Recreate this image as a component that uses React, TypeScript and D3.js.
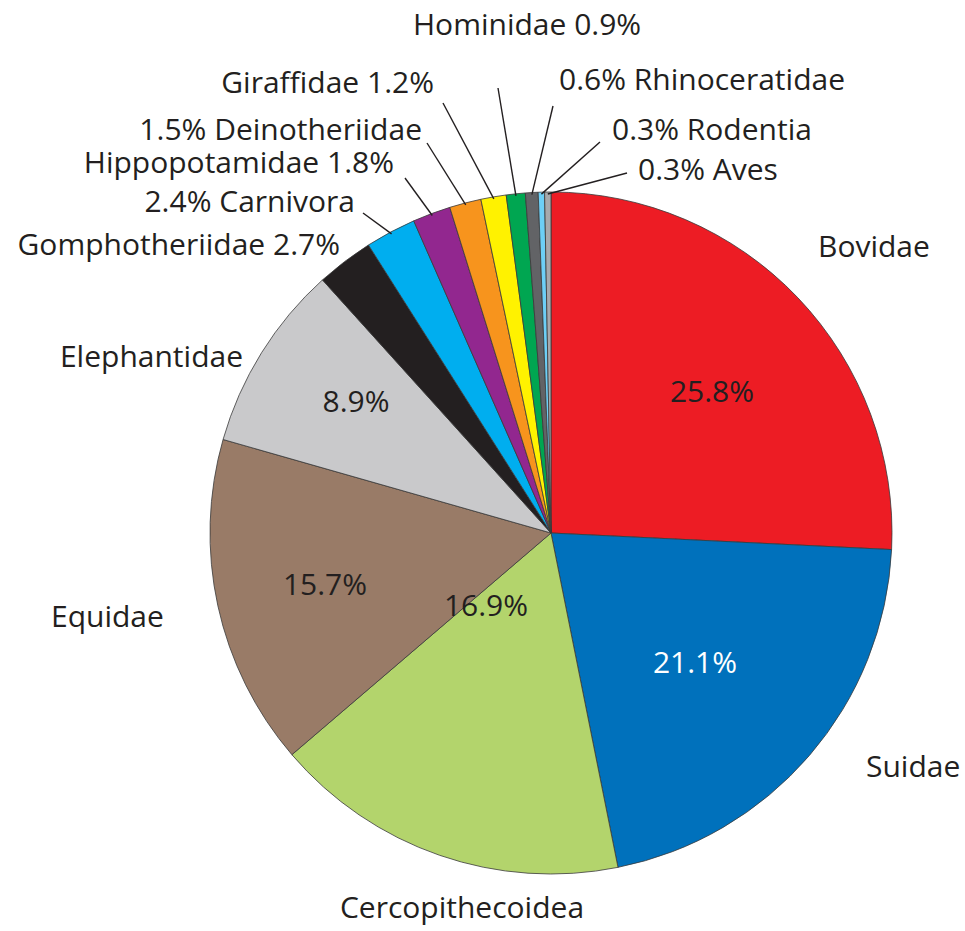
import React, { useEffect, useRef } from "react";
import * as d3 from "d3";

// families, clockwise from 12 o'clock
const families = [
  "Bovidae",
  "Suidae",
  "Cercopithecoidea",
  "Equidae",
  "Elephantidae",
  "Gomphotheriidae",
  "Carnivora",
  "Hippopotamidae",
  "Deinotheriidae",
  "Giraffidae",
  "Hominidae",
  "Rhinoceratidae",
  "Rodentia",
  "Aves",
];
const percents = [25.8, 21.1, 16.9, 15.7, 8.9, 2.7, 2.4, 1.8, 1.5, 1.2, 0.9, 0.6, 0.3, 0.3];
const colors = [
  "#ed1c24",
  "#0071bc",
  "#b3d46c",
  "#997b67",
  "#c9c9cb",
  "#231f20",
  "#00aeef",
  "#92278f",
  "#f7941d",
  "#fff200",
  "#00a651",
  "#626366",
  "#6dcff6",
  "#a7a9ac",
];

// label layout: text position, anchor, where the % goes, optional leader-line end
const outerLabels: Record<string, any> = {
  Bovidae: { x: 818, y: 257, anchor: "start", pct: "none" },
  Suidae: { x: 866, y: 777, anchor: "start", pct: "none" },
  Cercopithecoidea: { x: 462, y: 918, anchor: "middle", pct: "none" },
  Equidae: { x: 51, y: 627, anchor: "start", pct: "none" },
  Elephantidae: { x: 243, y: 367, anchor: "end", pct: "none" },
  Gomphotheriidae: { x: 340, y: 255, anchor: "end", pct: "after" },
  Carnivora: { x: 355, y: 212, anchor: "end", pct: "before", lx: 363, ly: 213 },
  Hippopotamidae: { x: 394, y: 173, anchor: "end", pct: "after", lx: 405, ly: 178 },
  Deinotheriidae: { x: 422, y: 140, anchor: "end", pct: "before", lx: 427, ly: 143 },
  Giraffidae: { x: 434, y: 93, anchor: "end", pct: "after", lx: 443, ly: 103 },
  Hominidae: { x: 413, y: 35, anchor: "start", pct: "after", lx: 498, ly: 88 },
  Rhinoceratidae: { x: 559, y: 90, anchor: "start", pct: "before", lx: 553, ly: 106 },
  Rodentia: { x: 612, y: 140, anchor: "start", pct: "before", lx: 600, ly: 142 },
  Aves: { x: 638, y: 180, anchor: "start", pct: "before", lx: 627, ly: 173 },
};
const innerLabels: Record<string, any> = {
  Bovidae: { x: 712, y: 402, fill: "#231f20" },
  Suidae: { x: 695, y: 673, fill: "#ffffff" },
  Cercopithecoidea: { x: 486, y: 616, fill: "#231f20" },
  Equidae: { x: 325, y: 595, fill: "#231f20" },
  Elephantidae: { x: 356, y: 412, fill: "#231f20" },
};

const PieChart = () => {
  const svgRef = useRef<SVGSVGElement>(null);

  useEffect(() => {
    const width = 965;
    const height = 931;
    const cx = 551;
    const cy = 533;
    const radius = 341;

    const svg = d3.select(svgRef.current);
    svg.selectAll("*").remove();
    svg.attr("width", width).attr("height", height);

    const data = families.map((name, i) => ({ name, value: percents[i], color: colors[i] }));

    const pie = d3
      .pie<any>()
      .value((d) => d.value)
      .sort(null);
    const arcs = pie(data);
    const arc = d3.arc<any>().innerRadius(0).outerRadius(radius);

    const g = svg.append("g").attr("transform", `translate(${cx},${cy})`);

    g.selectAll("path")
      .data(arcs)
      .enter()
      .append("path")
      .attr("d", arc)
      .attr("fill", (d) => d.data.color)
      .attr("stroke", "#3a3a3a")
      .attr("stroke-width", 0.8);

    const font = "'Open Sans', 'DejaVu Sans', sans-serif";
    const fontSize = 30;

    // leader lines for the thin slices
    arcs.forEach((a) => {
      const lab = outerLabels[a.data.name];
      if (lab.lx === undefined) return;
      const mid = (a.startAngle + a.endAngle) / 2;
      const r0 = radius - 2;
      svg
        .append("line")
        .attr("x1", cx + r0 * Math.sin(mid))
        .attr("y1", cy - r0 * Math.cos(mid))
        .attr("x2", lab.lx)
        .attr("y2", lab.ly)
        .attr("stroke", "#231f20")
        .attr("stroke-width", 1.4);
    });

    // outer names
    arcs.forEach((a) => {
      const name = a.data.name;
      const lab = outerLabels[name];
      const pctText = `${a.data.value.toFixed(1)}%`;
      let text = name;
      if (lab.pct === "after") text = `${name} ${pctText}`;
      if (lab.pct === "before") text = `${pctText} ${name}`;
      svg
        .append("text")
        .attr("x", lab.x)
        .attr("y", lab.y)
        .attr("text-anchor", lab.anchor)
        .attr("font-family", font)
        .attr("font-size", fontSize)
        .attr("fill", "#231f20")
        .text(text);
    });

    // percentages inside the big slices
    arcs.forEach((a) => {
      const lab = innerLabels[a.data.name];
      if (!lab) return;
      svg
        .append("text")
        .attr("x", lab.x)
        .attr("y", lab.y)
        .attr("text-anchor", "middle")
        .attr("font-family", font)
        .attr("font-size", fontSize)
        .attr("fill", lab.fill)
        .text(`${a.data.value.toFixed(1)}%`);
    });
  }, []);

  return (
    <div style={{ position: "absolute", left: 0, top: 0, background: "#fff" }}>
      <svg ref={svgRef} style={{ display: "block" }}></svg>
    </div>
  );
};

export default function App() {
  return <PieChart />;
}
